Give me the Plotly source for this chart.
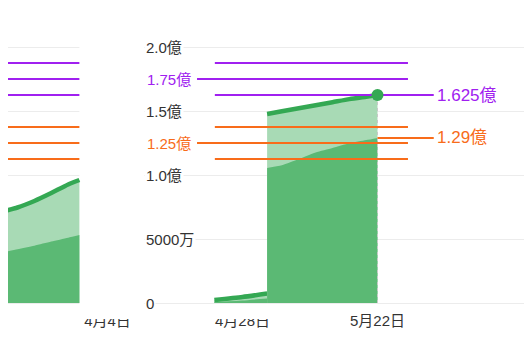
import plotly.graph_objects as go
from datetime import datetime, timedelta

# ---------------- data (values in 億円) ----------------
early_dates = ["2024-03-16", "2024-03-19", "2024-03-22", "2024-03-25", "2024-03-28", "2024-03-30"]
early_total = [0.711, 0.746, 0.797, 0.859, 0.926, 0.961]
early_part = [0.393, 0.420, 0.447, 0.480, 0.510, 0.531]

small_dates = ["2024-04-23", "2024-04-28", "2024-05-02 09:00"]
small_total = [0.023, 0.047, 0.074]
small_part = [0.008, 0.020, 0.035]

block_dates = ["2024-05-02 09:00", "2024-05-05", "2024-05-08", "2024-05-11",
               "2024-05-14", "2024-05-17", "2024-05-20", "2024-05-22"]
block_total = [1.477, 1.498, 1.522, 1.545, 1.569, 1.593, 1.612, 1.625]
block_part = [1.055, 1.076, 1.125, 1.176, 1.211, 1.248, 1.273, 1.29]

purple_levels = [1.875, 1.75, 1.625]
orange_levels = [1.375, 1.25, 1.125]
labeled_levels = [1.75, 1.25]
target_span = ["2024-04-23 02:00", "2024-05-27 10:00"]
labeled_start = "2024-04-19 22:00"
left_span = ["2024-03-10", "2024-03-30"]
leader_end = "2024-06-01 00:00"

y_tick_vals = [2.0, 1.5, 1.0, 0.5, 0]
y_tick_text = ["2.0億", "1.5億", "1.0億", "5000万", "0"]
y_color_vals = [1.75, 1.25]
y_color_text = ["1.75億", "1.25億"]

x_tick_vals = ["2024-03-11", "2024-04-04", "2024-04-28", "2024-05-22"]
x_tick_text = ["3月11日", "4月4日", "4月28日", "5月22日"]

gap_span = ["2024-03-30", "2024-04-10 12:00"]

# ---------------- styles ----------------
GREEN = "#34a853"
DARK = "#5bb974"
LIGHT = "#a8dab5"
PURPLE = "#a020f0"
ORANGE = "#f86c1a"
TXT = "#333333"
FONT = "Liberation Sans, Arial, Noto Sans CJK JP"

# page body has an 8px margin: figure pixel = window pixel - 8
OFF = 8
W, H = 532 - OFF, 356 - OFF
H_PLOT = 305 - OFF          # plot area bottom (figure px)
ZERO_PX = 303 - OFF         # pixel of value 0
px_per_val = 128.0
px_per_day = 5.625
REF_PX = 377.5 - OFF        # pixel of 5/22

fig = go.Figure()

def add_area(xs, tot, part):
    fig.add_trace(go.Scatter(x=xs, y=tot, mode="lines", fill="tozeroy",
                             fillcolor=LIGHT, line=dict(color=GREEN, width=4.5, shape="spline", smoothing=0.6),
                             hoverinfo="skip"))
    fig.add_trace(go.Scatter(x=xs, y=part, mode="lines", fill="tozeroy",
                             fillcolor=DARK, line=dict(color=DARK, width=0, shape="spline", smoothing=0.6),
                             hoverinfo="skip"))

add_area(early_dates, early_total, early_part)
add_area(small_dates, small_total, small_part)
add_area(block_dates, block_total, block_part)

# vertical dotted hover line
fig.add_trace(go.Scatter(x=[block_dates[-1], block_dates[-1]], y=[0, block_total[-1]], mode="lines",
                         line=dict(color="#c8c8c8", width=1, dash="dot"), hoverinfo="skip"))

# target lines
for levels, col in ((purple_levels, PURPLE), (orange_levels, ORANGE)):
    for lv in levels:
        start = labeled_start if lv in labeled_levels else target_span[0]
        fig.add_trace(go.Scatter(x=[start, target_span[1]], y=[lv, lv], mode="lines",
                                 line=dict(color=col, width=2), hoverinfo="skip"))
        fig.add_trace(go.Scatter(x=left_span, y=[lv, lv], mode="lines",
                                 line=dict(color=col, width=2), hoverinfo="skip"))

# leader lines for current values
for val, col in ((block_total[-1], PURPLE), (block_part[-1], ORANGE)):
    fig.add_trace(go.Scatter(x=[block_dates[-1], leader_end], y=[val, val], mode="lines",
                             line=dict(color=col, width=2), hoverinfo="skip"))
    fig.add_annotation(x=leader_end, y=val, xref="x", yref="y", text=f"{val:g}億",
                       showarrow=False, xanchor="left", yanchor="middle", xshift=1,
                       font=dict(family=FONT, size=17, color=col))

# current marker
fig.add_trace(go.Scatter(x=[block_dates[-1]], y=[block_total[-1]], mode="markers",
                         marker=dict(color=GREEN, size=12), hoverinfo="skip"))

# y labels (with white background over gridlines)
LABEL_X = (144 - OFF) / W
for v, t in zip(y_tick_vals, y_tick_text):
    fig.add_annotation(x=LABEL_X, y=v, xref="paper", yref="y", text=t, showarrow=False,
                       xanchor="left", yanchor="middle", bgcolor="white", borderpad=1,
                       font=dict(family=FONT, size=15, color=TXT))
for v, t, c in zip(y_color_vals, y_color_text, (PURPLE, ORANGE)):
    fig.add_annotation(x=LABEL_X, y=v, xref="paper", yref="y", text=t, showarrow=False,
                       xanchor="left", yanchor="middle", bgcolor="white", borderpad=1, xshift=1,
                       font=dict(family=FONT, size=15, color=c))

# gap where gridlines are missing
fig.add_shape(type="rect", xref="x", yref="y", x0=gap_span[0], x1=gap_span[1], y0=-0.1, y1=2.3,
              fillcolor="white", line=dict(width=0), layer="between")
# clipped tops of the first tick labels
fig.add_shape(type="rect", xref="paper", yref="paper", x0=(80 - OFF) / W, x1=(290 - OFF) / W,
              y0=(H_PLOT - (319 - OFF)) / H_PLOT, y1=(H_PLOT - (304 - OFF)) / H_PLOT,
              fillcolor="white", line=dict(width=0), layer="above")

d_ref = datetime(2024, 5, 22)
x0 = d_ref - timedelta(days=REF_PX / px_per_day)
x1 = d_ref + timedelta(days=(W - REF_PX) / px_per_day)
y_lo = -(H_PLOT - ZERO_PX) / px_per_val
y_hi = ZERO_PX / px_per_val

fig.update_layout(
    width=W, height=H,
    margin=dict(l=0, r=0, t=0, b=H - H_PLOT),
    paper_bgcolor="white", plot_bgcolor="white",
    showlegend=False, hovermode=False,
    xaxis=dict(type="date", range=[x0.isoformat(), x1.isoformat()], tickvals=x_tick_vals,
               ticktext=x_tick_text, showgrid=False, zeroline=False, showline=False, ticks="",
               ticklabelstandoff=5,
               tickfont=dict(family=FONT, size=15, color=TXT)),
    yaxis=dict(range=[y_lo, y_hi], tickvals=y_tick_vals, showticklabels=False, showgrid=True,
               gridcolor="#ececec", gridwidth=1, zeroline=False, showline=False, ticks=""),
)

fig.write_html("out.html")
